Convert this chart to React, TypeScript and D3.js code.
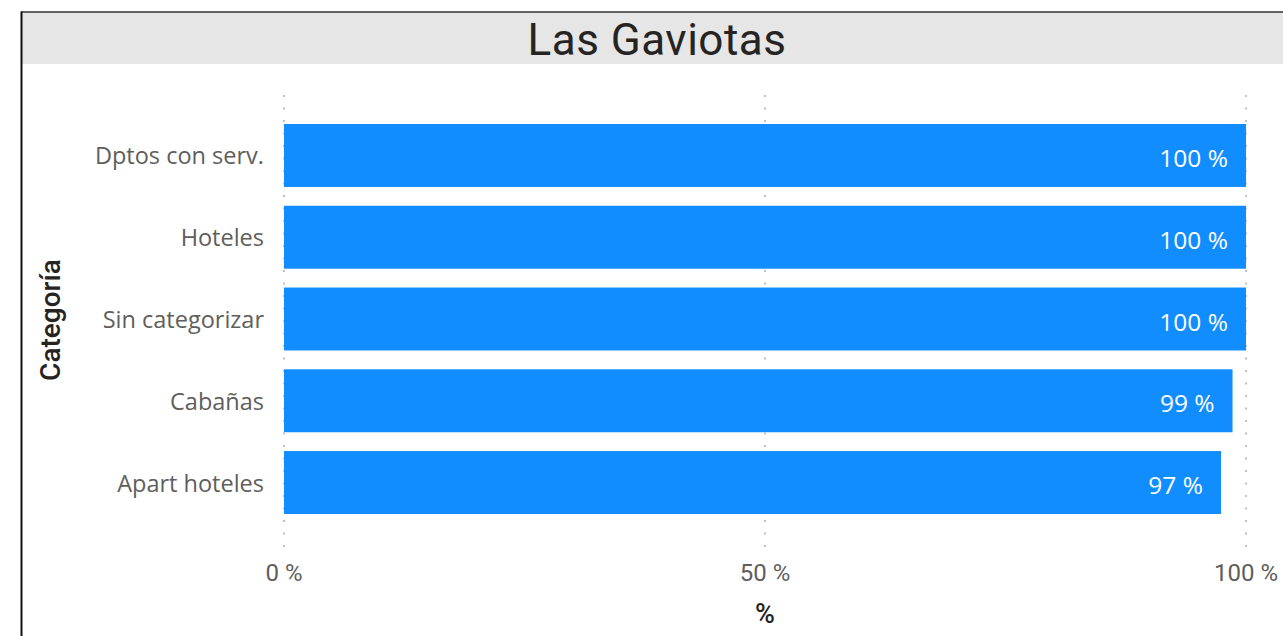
import { useMemo } from 'react';
import * as d3 from 'd3';

const TITLE = 'Las Gaviotas';
const categories = ['Dptos con serv.', 'Hoteles', 'Sin categorizar', 'Cabañas', 'Apart hoteles'];
const values = [100, 100, 100, 98.6, 97.4];
const xTicks = [0, 50, 100];
const xAxisTitle = '%';
const yAxisTitle = 'Categoría';

const W = 1283;
const H = 636;
const BAR_COLOR = '#118DFF';
const LABEL_COLOR = '#605E5C';
const TITLE_COLOR = '#252423';

export default function App() {
  const x = useMemo(() => d3.scaleLinear().domain([0, 100]).range([284, 1246]), []);
  const y = useMemo(
    () => d3.scaleBand<string>().domain(categories).range([105.2, 532.8]).padding(0.23),
    [],
  );
  const fmt = (v: number) => `${Math.round(v)} %`;

  return (
    <div style={{ position: 'fixed', left: 0, top: 0, width: W, height: H, background: '#fff' }}>
      <svg width={W} height={H} style={{ display: 'block' }}>
        {/* frame + title band */}
        <rect x={22} y={12} width={W - 22} height={52} fill="#E6E6E6" />
        <line x1={21} x2={W} y1={12} y2={12} stroke="#333" strokeWidth={1.5} />
        <line x1={21.5} x2={21.5} y1={11.5} y2={H} stroke="#111" strokeWidth={2} />
        <text
          x={657}
          y={55}
          textAnchor="middle"
          fontFamily="Roboto, 'Open Sans', sans-serif"
          fontSize={44}
          fill={TITLE_COLOR}
          letterSpacing={0.5}
        >
          {TITLE}
        </text>

        {/* gridlines */}
        {xTicks.map((t) => (
          <line
            key={`g${t}`}
            x1={x(t)}
            x2={x(t)}
            y1={95}
            y2={550}
            stroke="#C0C0C0"
            strokeWidth={2}
            strokeDasharray="2 10.5"
          />
        ))}

        {/* bars */}
        {categories.map((c, i) => (
          <g key={c}>
            <rect
              x={x(0)}
              y={y(c)}
              width={x(values[i]) - x(0)}
              height={y.bandwidth()}
              fill={BAR_COLOR}
            />
            <text
              x={x(values[i]) - 18}
              y={(y(c) ?? 0) + y.bandwidth() / 2 + 2}
              textAnchor="end"
              dominantBaseline="central"
              fontFamily="'Open Sans', sans-serif"
              fontSize={24.5}
              fill="#fff"
            >
              {fmt(values[i])}
            </text>
            <text
              x={264}
              y={(y(c) ?? 0) + y.bandwidth() / 2}
              textAnchor="end"
              dominantBaseline="central"
              fontFamily="'Open Sans', sans-serif"
              fontSize={23.5}
              fill={LABEL_COLOR}
            >
              {c}
            </text>
          </g>
        ))}

        {/* x tick labels */}
        {xTicks.map((t) => (
          <text
            key={`t${t}`}
            x={x(t)}
            y={581}
            textAnchor="middle"
            fontFamily="Roboto, 'Open Sans', sans-serif"
            fontSize={24}
            fill={LABEL_COLOR}
          >
            {`${t} %`}
          </text>
        ))}

        {/* axis titles */}
        <text
          x={765}
          y={623}
          textAnchor="middle"
          fontFamily="Roboto, 'Open Sans', sans-serif"
          fontWeight={500}
          fontSize={27}
          fill={TITLE_COLOR}
        >
          {xAxisTitle}
        </text>
        <text
          transform="translate(60,320) rotate(-90)"
          textAnchor="middle"
          fontFamily="Roboto, 'Open Sans', sans-serif"
          fontWeight={500}
          fontSize={28}
          fill={TITLE_COLOR}
        >
          {yAxisTitle}
        </text>
      </svg>
    </div>
  );
}
